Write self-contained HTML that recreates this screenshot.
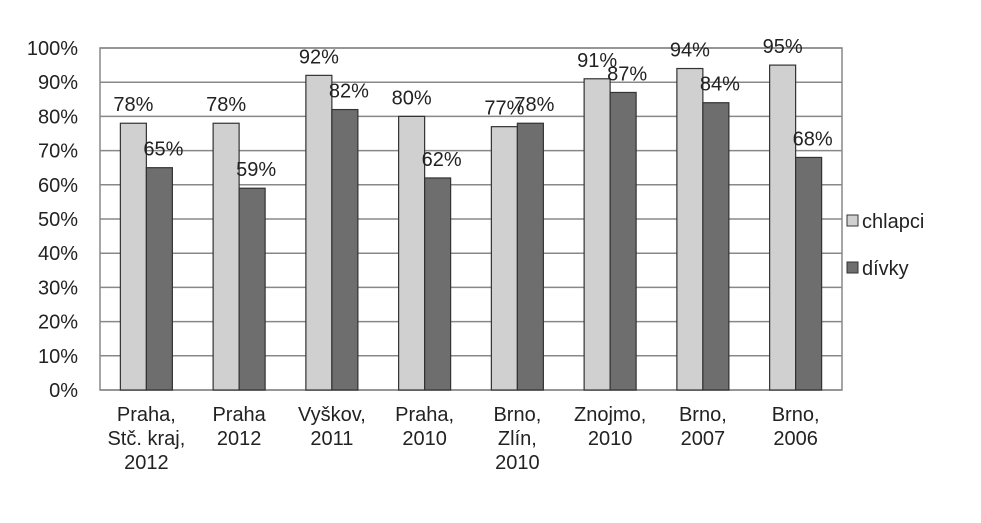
<!DOCTYPE html>
<html><head><meta charset="utf-8"><style>
body{margin:0;background:#fff}
svg text{font-family:"Liberation Sans",sans-serif;fill:#222}
</style></head><body>
<svg id="chart" width="981" height="518"></svg>
<script>
const categories=[["Praha,","Stč. kraj,","2012"],["Praha","2012"],["Vyškov,","2011"],["Praha,","2010"],["Brno,","Zlín,","2010"],["Znojmo,","2010"],["Brno,","2007"],["Brno,","2006"]];
const chlapci=[78,78,92,80,77,91,94,95];
const divky=[65,59,82,62,78,87,84,68];
const yTicks=[0,10,20,30,40,50,60,70,80,90,100];
const NS="http://www.w3.org/2000/svg";
const svg=document.getElementById('chart');
const L=100,R=842,T=48,B=390;
const y=v=>B-(v/100)*(B-T);
const cw=(R-L)/categories.length;
const x=i=>L+i*cw;
function mk(t,a,txt){const e=document.createElementNS(NS,t);for(const k in a)e.setAttribute(k,a[k]);if(txt!=null)e.textContent=txt;svg.appendChild(e);return e;}
yTicks.forEach(v=>{
 const g=mk('line',{x1:L,x2:R,y1:y(v),y2:y(v),stroke:'#888','stroke-width':1.5});
 
 
 const t=mk('text',{x:78,y:y(v)+7,'text-anchor':'end','font-size':20},v+'%');
 
 
});
const ax=mk('rect',{x:L,y:T,width:R-L,height:B-T,fill:'none',stroke:'#888','stroke-width':1.5});


const bw=26;
categories.forEach((c,i)=>{
 const cx=x(i)+cw/2;
 const b1=mk('rect',{x:cx-bw,y:y(chlapci[i]),width:bw,height:B-y(chlapci[i]),fill:'#d0d0d0',stroke:'#333','stroke-width':1.2});
 
 
 const b2=mk('rect',{x:cx,y:y(divky[i]),width:bw,height:B-y(divky[i]),fill:'#6e6e6e',stroke:'#333','stroke-width':1.2});
 
 
 const l1=mk('text',{x:cx-bw/2,y:y(chlapci[i])-12,'text-anchor':'middle','font-size':20},chlapci[i]+'%');
 
 
 const l2=mk('text',{x:cx+bw/2+4,y:y(divky[i])-12,'text-anchor':'middle','font-size':20},divky[i]+'%');
 
 
 c.forEach((s,j)=>{
  const t=mk('text',{x:cx,y:421+j*24,'text-anchor':'middle','font-size':20},s);
  
  
 });
});
[['chlapci','#d0d0d0',221],['dívky','#6e6e6e',268]].forEach(([n,c,yy])=>{
 const r=mk('rect',{x:847,y:yy-6,width:11,height:11,fill:c,stroke:'#333','stroke-width':1});
 
 
 const t=mk('text',{x:862,y:yy+7,'font-size':20},n);
 
 
});
</script>
</body></html>
